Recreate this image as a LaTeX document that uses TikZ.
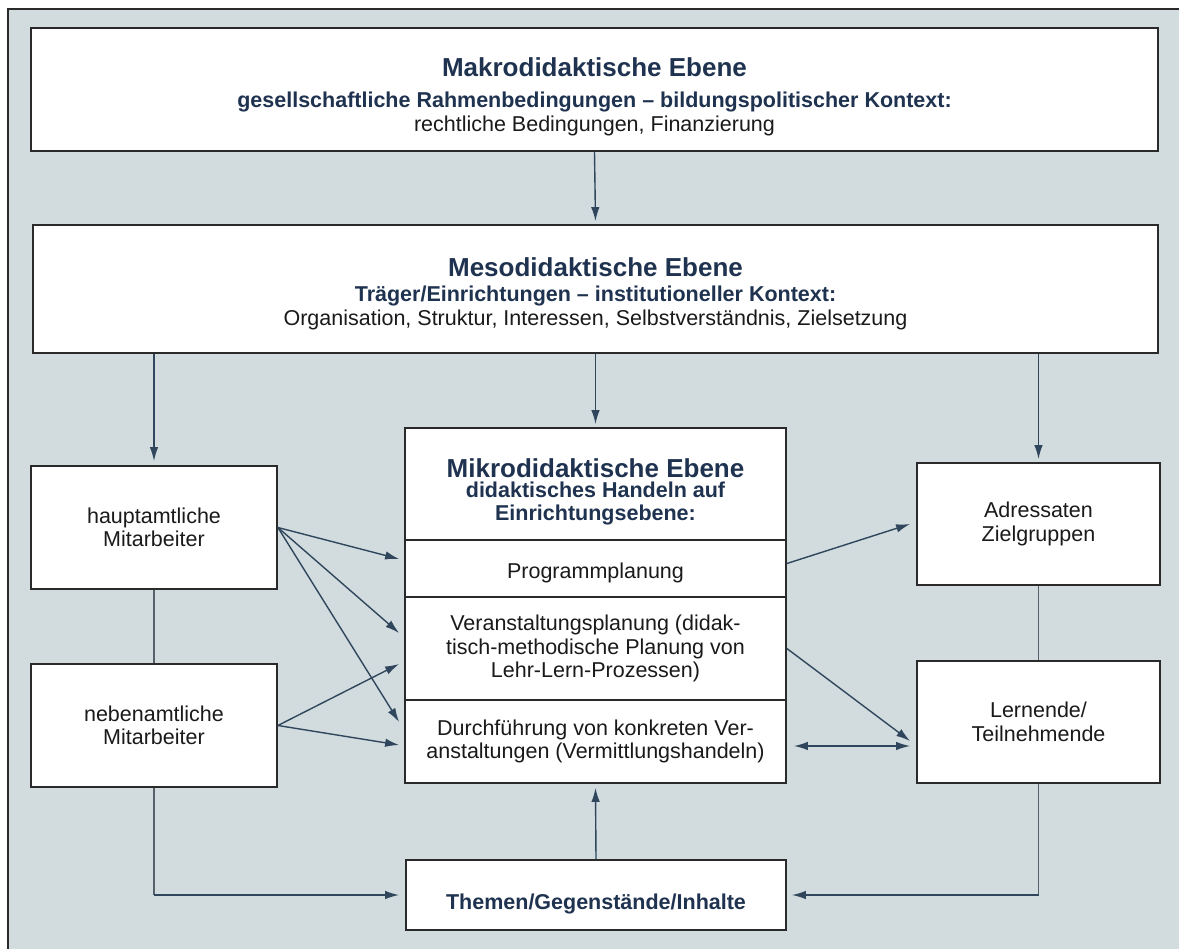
\documentclass[tikz,border=0pt]{standalone}
\usepackage{fontspec}
\setmainfont{Liberation Sans}
\usetikzlibrary{arrows.meta}
\definecolor{paper}{HTML}{D2DCDF}
\definecolor{ink}{HTML}{1A1A1A}
\definecolor{headink}{HTML}{1F3350}
\definecolor{frame}{HTML}{2A2A2A}
\definecolor{linkc}{HTML}{2F465C}
\definecolor{plainc}{HTML}{56606B}

\newcommand{\headline}[1]{{\fontsize{26}{30}\selectfont\bfseries\color{headink}#1}}
\newcommand{\subline}[1]{{\bfseries\color{headink}#1}}
% invisible strut that lowers a centred text block inside its box
\newcommand{\padtop}[1]{\rule{0pt}{#1}}

\begin{document}
\begin{tikzpicture}[x=1pt,y=-1pt,
  box/.style={draw=frame, line width=1.8pt, fill=white, inner sep=0pt,
    align=center, text=ink, font=\fontsize{21.5}{23.5}\selectfont},
  arr/.style={draw=linkc, line width=1.4pt, -{Latex[length=14pt,width=8.5pt]}},
  plain/.style={draw=plainc, line width=1.2pt}
]
% sheet with its frame
\useasboundingbox (0,0) rectangle (1179,949);
\fill[white] (0,0) rectangle (1179,949);
\fill[paper] (8,9) rectangle (1179,949);
\draw[frame, line width=1.5pt] (8,949) -- (8,9) -- (1179,9);

% levels
\node[box, minimum width=1127pt, minimum height=123pt] (makro) at (594.5,89.5)
  {\padtop{33pt}\headline{Makrodidaktische Ebene}\\[8pt]
   \subline{gesellschaftliche Rahmenbedingungen – bildungspolitischer Kontext:}\\
   rechtliche Bedingungen, Finanzierung};
\node[box, minimum width=1125pt, minimum height=128pt] (meso) at (595.5,289)
  {\padtop{28pt}\headline{Mesodidaktische Ebene}\\[2pt]
   \subline{Träger/Einrichtungen – institutioneller Kontext:}\\
   Organisation, Struktur, Interessen, Selbstverständnis, Zielsetzung};

% micro level, stacked parts
\node[box, minimum width=381pt, minimum height=112pt] (mikro) at (595.5,484)
  {\padtop{34pt}\headline{Mikrodidaktische Ebene}\\[-3pt]
   \subline{didaktisches Handeln auf}\\[-1pt]
   \subline{Einrichtungsebene:}};
\node[box, minimum width=381pt, minimum height=57pt] (prog) at (595.5,568.5)
  {\padtop{24pt}Programmplanung};
\node[box, minimum width=381pt, minimum height=103pt] (veran) at (595.5,648.5)
  {Veranstaltungsplanung (didak-\\tisch-methodische Planung von\\Lehr-Lern-Prozessen)};
\node[box, minimum width=381pt, minimum height=83pt] (durch) at (595.5,741.5)
  {Durchführung von konkreten Ver-\\anstaltungen (Vermittlungshandeln)};

% staff
\node[box, minimum width=246pt, minimum height=123pt] (haupt) at (154,527.5)
  {hauptamtliche\\Mitarbeiter};
\node[box, minimum width=246pt, minimum height=123pt] (neben) at (154,725.5)
  {nebenamtliche\\Mitarbeiter};

% participants
\node[box, minimum width=243pt, minimum height=122pt] (adr) at (1038.5,524)
  {Adressaten\\Zielgruppen};
\node[box, minimum width=243pt, minimum height=122pt] (lern) at (1038.5,722)
  {Lernende/\\Teilnehmende};

% contents
\node[box, minimum width=380pt, minimum height=70pt] (them) at (596,895)
  {\padtop{34pt}\subline{Themen/Gegenstände/Inhalte}};

% vertical flow
\draw[arr] (makro.south) -- ([yshift=3pt]meso.north);
\draw[arr] (meso.south) -- ([yshift=3pt]mikro.north);
\draw[arr] (haupt.north |- meso.south) -- ([yshift=4pt]haupt.north);
\draw[arr] (adr.north |- meso.south) -- ([yshift=3pt]adr.north);
\draw[arr] (them.north) -- ([yshift=-4pt]durch.south);

% staff to planning and teaching
\draw[arr] (haupt.east) -- ([xshift=-5pt,yshift=9.5pt]prog.west);
\draw[arr] (haupt.east) -- ([xshift=-5pt,yshift=15.5pt]veran.west);
\draw[arr] (haupt.east) -- ([xshift=-5pt,yshift=19.5pt]durch.west);
\draw[arr] (neben.east) -- ([xshift=-5pt,yshift=-15.5pt]veran.west);
\draw[arr] (neben.east) -- ([xshift=-5pt,yshift=-3.5pt]durch.west);
\draw[plain] (haupt.south) -- (neben.north);
\draw[plain] (adr.south) -- (lern.north);

% micro level to participants
\draw[arr] ([yshift=5pt]prog.east) -- ([xshift=-6pt]adr.west);
\draw[arr] (veran.east) -- ([xshift=-6pt,yshift=-19pt]lern.west);
\draw[arr,{Latex[length=14pt,width=8.5pt]}-{Latex[length=14pt,width=8.5pt]}]
  ([xshift=7pt,yshift=-4.5pt]durch.east) -- ([xshift=-6pt,yshift=-24pt]lern.west);

% feeds into the contents
\draw[plain] (neben.south) -- (neben.south |- them.west);
\draw[arr] (neben.south |- them.west) -- ([xshift=-6pt]them.west);
\draw[plain] (lern.south) -- (lern.south |- them.east);
\draw[arr] (lern.south |- them.east) -- ([xshift=5pt]them.east);
\end{tikzpicture}
\end{document}
